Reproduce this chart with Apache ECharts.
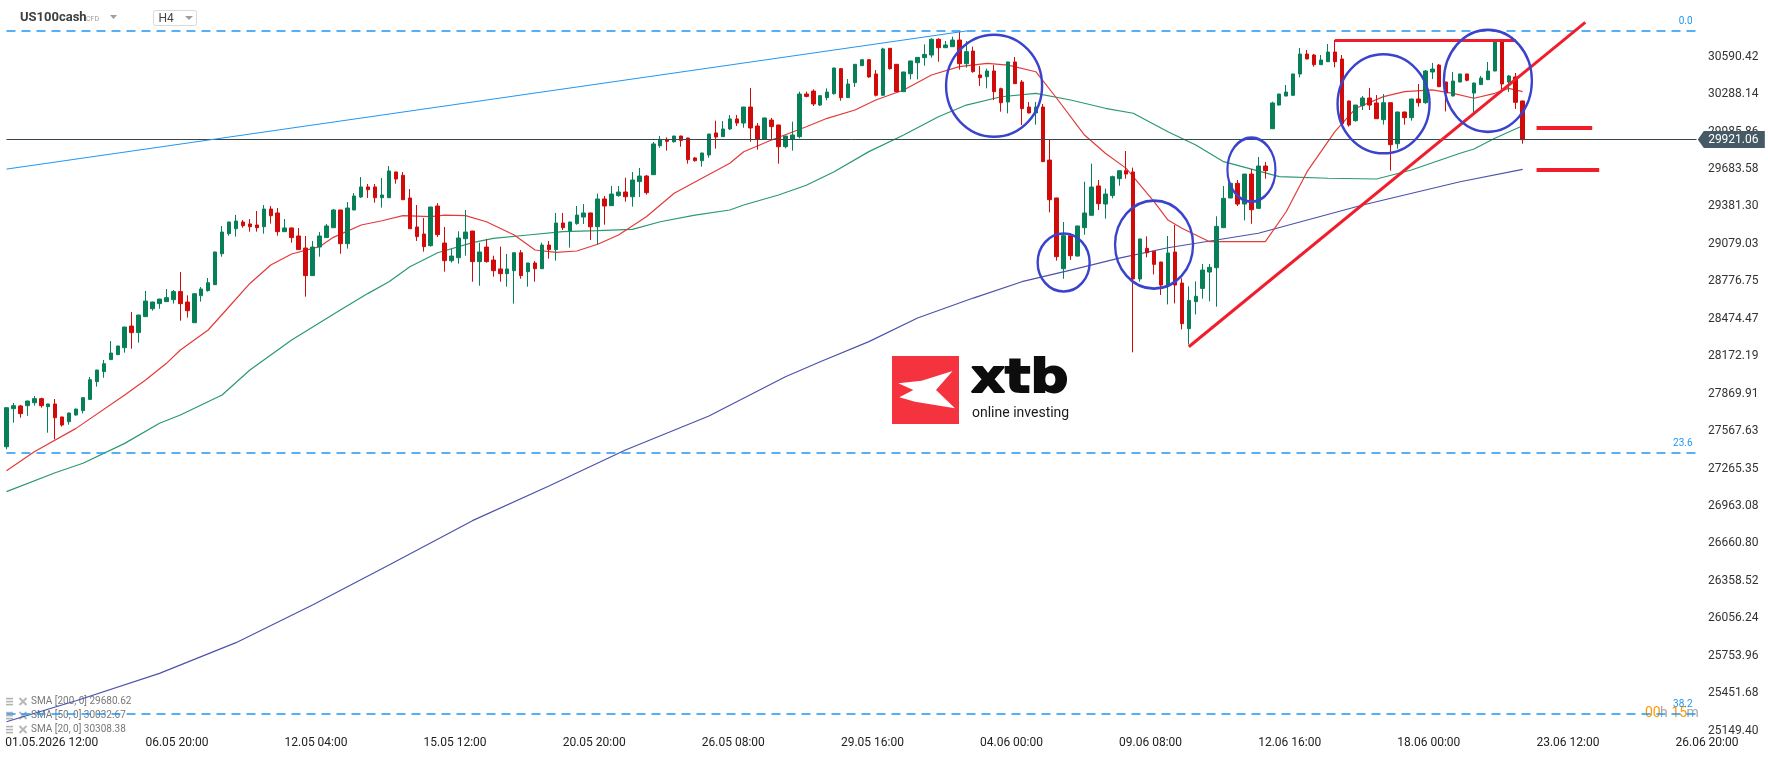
<!DOCTYPE html>
<html>
<head>
<meta charset="utf-8">
<title>US100cash H4</title>
<script src="https://cdn.jsdelivr.net/npm/echarts@6/dist/echarts.min.js"></script>
<style>
  html, body { margin: 0; padding: 0; background: #fff; }
  #chart { width: 1768px; height: 761px; }
</style>
</head>
<body>
<div id="chart"></div>
<script>
// H4 candles, oldest first
const open = [
  27442,27749,27771,27773,27797,27830,27765,27787,27682,27644,
  27698,27733,27824,27967,28048,28145,28185,28241,28416,28363,
  28492,28556,28597,28613,28629,28694,28610,28443,28661,28702,
  28750,29000,29162,29202,29256,29240,29232,29218,29361,29329,
  29178,29208,29143,29046,28823,29054,29130,29210,29353,29081,
  29353,29458,29539,29539,29452,29452,29660,29633,29450,29216,
  29159,29065,29385,29086,28944,28968,29121,29183,28936,29054,
  28949,28877,28839,28863,29008,28855,28925,28879,29070,29033,
  29248,29186,29243,29296,29329,29218,29442,29388,29469,29498,
  29460,29582,29627,29638,29872,29923,29904,29950,29934,29773,
  29751,29797,29975,29945,30007,30088,30055,30184,30031,29923,
  30079,30039,29864,29926,29945,30289,30313,30200,30260,30292,
  30494,30260,30381,30518,30566,30451,30279,30658,30529,30308,
  30453,30542,30583,30604,30731,30663,30671,30725,30534,30636,
  30443,30429,30475,30332,30225,30548,30386,30184,30136,30184,
  29756,29450,28879,29146,28981,29210,29310,29547,29401,29469,
  29606,29670,29660,28796,29043,29019,28933,28747,29014,28763,
  28395,28613,28720,28852,28887,29210,29450,29568,29401,29643,
  29366,29708,30009,30200,30273,30279,30451,30612,30604,30526,
  30550,30628,30572,30233,30074,30195,30257,30217,30082,30219,
  29888,30144,30098,30249,30219,30467,30523,30386,30273,30386,
  30451,30297,30365,30405,30475,30709,30386,30427,30233
];
const close = [
  27757,27773,27709,27811,27830,27773,27787,27676,27617,27714,
  27746,27838,27983,28061,28112,28198,28255,28408,28363,28505,
  28618,28610,28634,28645,28694,28597,28540,28677,28715,28766,
  29014,29175,29256,29264,29226,29218,29210,29361,29307,29178,
  29208,29130,29033,28823,29054,29143,29224,29353,29081,29369,
  29466,29539,29517,29452,29474,29668,29603,29436,29202,29138,
  29057,29377,29154,28944,28981,29127,29175,28936,29014,28936,
  28863,28839,28877,29008,28823,28925,28879,29070,29033,29248,
  29210,29256,29312,29329,29218,29442,29385,29482,29498,29460,
  29595,29627,29493,29886,29923,29907,29950,29915,29759,29751,
  29813,29966,29942,30007,30088,30055,30184,30015,29923,30096,
  30026,29864,29950,29958,30289,30270,30209,30276,30305,30499,
  30260,30370,30529,30566,30427,30279,30653,30494,30308,30467,
  30556,30585,30609,30731,30663,30685,30725,30534,30631,30470,
  30421,30475,30308,30219,30548,30373,30171,30136,30184,29743,
  29436,28976,29146,28984,29224,29329,29538,29404,29482,29622,
  29670,29643,28796,29119,29008,28914,28747,29006,28747,28435,
  28623,28656,28868,28890,29221,29447,29568,29401,29643,29355,
  29708,29670,30217,30289,30305,30451,30612,30572,30526,30564,
  30628,30550,30050,30039,30200,30257,30200,30090,30219,29880,
  30144,30098,30249,30219,30475,30491,30348,30297,30394,30451,
  30400,30378,30418,30475,30709,30370,30435,30222,29921.06
];
const low = [
  27421,27636,27676,27692,27773,27757,27555,27501,27604,27620,
  27692,27711,27819,27927,27999,28143,28183,28201,28233,28282,
  28490,28540,28556,28611,28597,28459,28484,28441,28613,28694,
  28748,28976,29146,29138,29210,29178,29178,29162,29243,29146,
  29176,29089,29031,28653,28821,28976,29128,29208,29000,29041,
  29351,29450,29450,29412,29372,29450,29565,29434,29200,29103,
  29017,29057,29135,28855,28928,28920,28984,28774,28742,28928,
  28815,28774,28734,28597,28798,28734,28774,28877,28960,28944,
  29191,29049,29234,29240,29111,29073,29234,29386,29460,29420,
  29380,29458,29477,29636,29856,29832,29896,29864,29727,29743,
  29703,29775,29848,29943,29999,30031,30017,29904,29840,29918,
  29923,29727,29851,29832,29931,30262,30192,30192,30238,30284,
  30235,30258,30346,30516,30421,30270,30277,30486,30306,30306,
  30408,30408,30518,30583,30550,30661,30669,30486,30502,30461,
  30354,30335,30241,30147,30133,30371,30039,30134,30042,29741,
  29334,28944,28798,28949,28979,29154,29308,29353,29283,29447,
  29549,29606,28204,28774,28971,28833,28667,28591,28599,28389,
  28268,28510,28637,28615,28572,29208,29448,29385,29269,29242,
  29364,29606,30007,30198,30271,30273,30424,30570,30510,30524,
  30548,30505,30048,30026,30066,30160,30160,30088,30042,29670,
  29848,30042,30074,30187,30211,30410,30346,30149,30271,30384,
  30392,30136,30363,30403,30473,30322,30305,30168,29888
];
const high = [
  27760,27795,27779,27813,27851,27838,27789,27827,27684,27716,
  27748,27843,28005,28063,28142,28295,28257,28410,28529,28507,
  28699,28612,28636,28715,28707,28852,28664,28679,28731,28804,
  29016,29224,29258,29313,29272,29280,29345,29393,29385,29369,
  29280,29210,29208,29143,29103,29175,29240,29361,29355,29417,
  29490,29619,29563,29563,29611,29708,29662,29660,29522,29393,
  29288,29379,29409,29216,29041,29181,29353,29185,29089,29119,
  28984,29057,28998,29010,29030,28927,28941,29089,29103,29329,
  29329,29258,29385,29401,29331,29485,29466,29547,29547,29614,
  29660,29692,29635,29902,29950,29940,29952,29952,29936,29781,
  29815,29968,30074,30071,30120,30120,30186,30338,30055,30098,
  30096,30041,29952,30066,30308,30308,30327,30281,30335,30501,
  30496,30410,30531,30568,30568,30483,30663,30660,30531,30469,
  30558,30587,30690,30739,30739,30717,30752,30795,30717,30671,
  30515,30494,30523,30340,30550,30588,30402,30225,30225,30209,
  29918,29452,29256,29167,29226,29581,29727,29595,29525,29630,
  29672,29829,29695,29121,29140,29021,28935,29143,29232,28801,
  28737,28777,28917,28917,29302,29547,29570,29595,29645,29684,
  29781,29740,30227,30291,30362,30453,30661,30645,30612,30604,
  30693,30725,30604,30235,30202,30273,30338,30281,30289,30221,
  30146,30147,30251,30370,30483,30540,30531,30388,30467,30453,
  30453,30380,30435,30548,30725,30725,30443,30459,30235
];

// moving averages read at some bars: [bar index, value]
const sma20 = [
  [0,27248],[4,27402],[10,27590],[17,27859],[20,27980],[23,28115],[25,28223],[29,28384],
  [32,28572],[35,28760],[38,28909],[41,28998],[45,29057],[47,29132],[51,29232],[54,29266],
  [57,29307],[61,29299],[63,29312],[66,29307],[69,29258],[73,29151],[76,29030],[79,29011],
  [82,29022],[85,29076],[88,29151],[92,29299],[96,29488],[100,29609],[104,29730],[106,29823],
  [110,29918],[115,30025],[118,30093],[122,30160],[125,30241],[129,30322],[133,30443],[137,30510],
  [141,30537],[144,30523],[148,30469],[151,30255],[155,29958],[158,29811],[161,29689],[165,29420],
  [167,29272],[169,29205],[173,29097],[181,29097],[184,29339],[187,29662],[191,29985],[194,30174],
  [198,30268],[201,30308],[205,30322],[208,30295],[211,30255],[214,30295],[216,30335],[218,30308]
];
const sma50 = [
  [0,27079],[7,27232],[11,27308],[17,27469],[22,27631],[25,27698],[28,27779],[31,27860],
  [35,28061],[41,28303],[48,28545],[52,28680],[55,28774],[58,28895],[62,29008],[67,29089],
  [70,29124],[75,29151],[80,29178],[85,29186],[90,29197],[94,29258],[99,29312],[104,29353],
  [106,29393],[111,29474],[115,29553],[119,29662],[124,29824],[129,29958],[134,30106],[138,30200],
  [143,30267],[148,30295],[153,30241],[158,30174],[162,30134],[167,29985],[171,29878],[175,29743],
  [183,29622],[190,29609],[197,29603],[202,29676],[209,29811],[211,29845],[214,29932],[218,30033]
];
const sma200 = [
  [0,25222],[10,25391],[22,25612],[33,25860],[44,26164],[55,26487],[67,26845],[78,27125],
  [89,27415],[101,27690],[112,28007],[117,28128],[124,28290],[131,28481],[139,28642],[146,28774],
  [153,28868],[160,28965],[167,29048],[180,29165],[195,29393],[209,29581],[218,29681]
];
const smaLegend = ['SMA [200, 0] 29680.62', 'SMA [50, 0] 30032.67', 'SMA [20, 0] 30308.38'];

const xLabels = ['01.05.2026 12:00','06.05 20:00','12.05 04:00','15.05 12:00','20.05 20:00',
  '26.05 08:00','29.05 16:00','04.06 00:00','09.06 08:00','12.06 16:00','18.06 00:00','23.06 12:00','26.06 20:00'];
const xLabelIdx = [6,24,44,64,84,104,124,144,164,184,204,224,244];
const yTicks = ['25149.40','25451.68','25753.96','26056.24','26358.52','26660.80','26963.08','27265.35',
  '27567.63','27869.91','28172.19','28474.47','28776.75','29079.03','29381.30','29683.58','29985.86',
  '30288.14','30590.42'];

// drawings on the chart
const lastPrice = 29921.06;
const fibLevels = [30798, 27394, 25287];
const fibNames = ['0.0', '23.6', '38.2'];
const blueTrend = [[0, 29683], [138, 30798]];
const redTrend = [[170, 28249], [227, 30867]];
const redTop = [[191, 30725], [217, 30725]];
const redMarks = [[[220, 30020], [228, 30020]], [[220, 29676], [229, 29676]]];
const circleAt = [[142, 30356], [152, 28929], [165, 29073], [179, 29678], [198, 30210], [213, 30396]];
const circleSize = [[96, 102], [52, 58], [78, 88], [48, 64], [92, 99], [88, 102]];

const N = 252; // bars on the axis incl. empty future ones, ~6.955px each
const up = '#07805a', down = '#d10a0a', redLine = '#f01e2c', fibBlue = '#2196f3';

const cats = [];
for (let i = 0; i < N; i++) cats.push('c' + i);
const labelAt = {};
xLabelIdx.forEach((k, j) => { labelAt[k] = xLabels[j]; });

const candles = open.map((o, i) => [o, close[i], low[i], high[i]]);

const yMin = 25149.40;
const yStep = (30590.42 - 25149.40) / 18;

const lineSeg = (pts, color, width) => ([
  { coord: pts[0], lineStyle: { color: color, width: width, type: 'solid' }, label: { show: false } },
  { coord: pts[1] }
]);

const mlData = [];
fibLevels.forEach((v, i) => {
  mlData.push([
    { coord: [0, v], lineStyle: { color: fibBlue, width: 1.5, type: [9, 6] },
      label: { show: true, position: 'insideEndTop', formatter: fibNames[i], color: fibBlue,
        fontSize: 10, fontFamily: 'Roboto', distance: 4 } },
    { coord: [243, v] }
  ]);
});
mlData.push(lineSeg([[0, lastPrice], [243, lastPrice]], '#37474f', 1));
mlData.push(lineSeg(blueTrend, fibBlue, 1));
mlData.push(lineSeg(redTrend, redLine, 3));
mlData.push(lineSeg(redTop, redLine, 3));
redMarks.forEach(m => mlData.push(lineSeg(m, redLine, 4)));

const mpData = circleAt.map((c, i) => ({
  coord: c, symbol: 'circle', symbolSize: circleSize[i],
  itemStyle: { color: 'rgba(0,0,0,0)', borderColor: '#3a43cc', borderWidth: 2.5 },
  label: { show: false }
}));
mpData.push({
  coord: [248, lastPrice],
  symbol: 'path://M0,8.5L6,0L67,0L67,17L6,17Z',
  symbolSize: [67, 17],
  itemStyle: { color: '#455a64', borderWidth: 0 },
  label: { show: true, formatter: lastPrice.toFixed(2), color: '#fff', fontSize: 12,
    fontFamily: 'Roboto', offset: [2, 0] }
});

const smaLine = (data, color) => ({
  type: 'line', data: data, symbol: 'none', silent: true, z: 1,
  lineStyle: { color: color, width: 1.2 }
});

// legend rows (bottom left)
const legendEls = [];
smaLegend.forEach((t, i) => {
  const y = 701.5 + i * 14;
  [-3, 0, 3].forEach(d => legendEls.push({ type: 'rect', shape: { x: 6, y: y + d - 0.7, width: 7, height: 1.6 },
    style: { fill: '#b3b3b3' }, silent: true }));
  legendEls.push({ type: 'line', shape: { x1: 19.5, y1: y - 3.5, x2: 26.5, y2: y + 3.5 },
    style: { stroke: '#b8b8b8', lineWidth: 2 }, silent: true });
  legendEls.push({ type: 'line', shape: { x1: 26.5, y1: y - 3.5, x2: 19.5, y2: y + 3.5 },
    style: { stroke: '#b8b8b8', lineWidth: 2 }, silent: true });
  legendEls.push({ type: 'text', x: 31, y: y, silent: true,
    style: { text: t, fill: '#777', font: '10px Roboto', verticalAlign: 'middle' } });
});

// countdown to bar close, next to the 38.2 level
const countdown = [['00', 1645, '#ff9800'], ['h', 1660, '#a8a8a8'], ['15', 1671.5, '#ff9800'], ['m', 1686.5, '#a8a8a8']];
const countdownEls = countdown.map(c => ({
  type: 'text', x: c[1], y: 713, silent: true,
  style: { text: c[0], fill: c[2], font: '14px Roboto', verticalAlign: 'middle' }
}));

const chart = echarts.init(document.getElementById('chart'));
chart.setOption({
  animation: false,
  backgroundColor: '#fff',
  grid: { left: 3, right: 12.34, top: 20, bottom: 30.3 },
  xAxis: {
    type: 'category',
    data: cats,
    axisLine: { show: false },
    axisTick: { show: false },
    splitLine: { show: false },
    axisLabel: {
      interval: 0, color: '#222', fontSize: 12, fontFamily: 'Roboto', margin: 6,
      padding: [0, 0, 0, 7],
      formatter: (v, i) => labelAt[i] || ''
    }
  },
  yAxis: {
    type: 'value',
    position: 'right',
    offset: -55.66,
    min: yMin,
    max: 30886.7,
    interval: yStep,
    axisLine: { show: false },
    axisTick: { show: false },
    splitLine: { show: false },
    axisLabel: {
      color: '#333', fontSize: 12, fontFamily: 'Roboto', margin: 8,
      showMaxLabel: false,
      formatter: v => {
        const k = Math.round((v - yMin) / yStep);
        return Math.abs(v - yMin - k * yStep) < 1 && yTicks[k] ? yTicks[k] : '';
      }
    }
  },
  series: [
    smaLine(sma200, '#4d52aa'),
    smaLine(sma50, '#2a9a6c'),
    smaLine(sma20, '#e33b3b'),
    {
      type: 'candlestick',
      data: candles,
      barWidth: 4,
      z: 2,
      itemStyle: { color: up, color0: down, borderColor: up, borderColor0: down, borderWidth: 1 },
      markLine: { silent: true, symbol: ['none', 'none'], z: 5, data: mlData },
      markPoint: { silent: true, z: 20, data: mpData }
    }
  ],
  graphic: [
    // header
    { type: 'text', x: 20, y: 18, silent: true,
      style: { text: 'US100cash', fill: '#3c4043', font: 'bold 13px Roboto', verticalAlign: 'middle' } },
    { type: 'text', x: 86, y: 19, silent: true,
      style: { text: 'CFD', fill: '#9e9e9e', font: '7px Roboto', verticalAlign: 'middle' } },
    { type: 'polygon', shape: { points: [[110, 15], [117, 15], [113.5, 19]] }, style: { fill: '#9e9e9e' }, silent: true },
    { type: 'rect', shape: { x: 153.5, y: 10.5, width: 43, height: 15, r: 2 },
      style: { fill: '#fff', stroke: '#d9d9d9', lineWidth: 1 }, silent: true },
    { type: 'text', x: 158.5, y: 19, silent: true,
      style: { text: 'H4', fill: '#444', font: '12px Roboto', verticalAlign: 'middle' } },
    { type: 'polygon', shape: { points: [[185, 16], [193, 16], [189, 20]] }, style: { fill: '#9e9e9e' }, silent: true },
    // logo
    { type: 'rect', shape: { x: 892, y: 356, width: 67, height: 68 }, style: { fill: '#f4333f' }, silent: true },
    { type: 'polygon', silent: true, style: { fill: '#fff' },
      shape: { points: [[898.3, 383.3], [921.6, 380.7], [952.6, 371], [936, 390], [955, 408.3],
        [915, 401.7], [899.3, 397.3], [913.3, 390]] } },
    { type: 'text', x: 971, y: 380, scaleX: 1.15, silent: true,
      style: { text: 'xtb', fill: '#0d0d0d', stroke: '#0d0d0d', lineWidth: 1.8,
        font: 'bold 46px "DejaVu Sans"', verticalAlign: 'middle' } },
    { type: 'text', x: 972, y: 413, silent: true,
      style: { text: 'online investing', fill: '#1a1a1a', font: '14px Roboto', verticalAlign: 'middle' } }
  ].concat(countdownEls, legendEls)
});
</script>
</body>
</html>
